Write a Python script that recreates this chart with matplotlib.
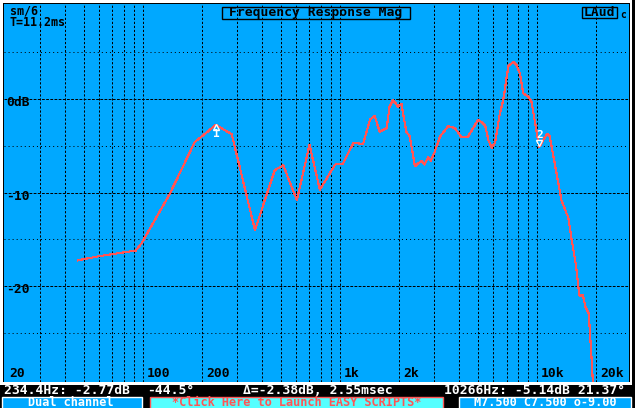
import matplotlib
matplotlib.use("Agg")
import matplotlib.pyplot as plt
import matplotlib.transforms as mtransforms
from matplotlib.patches import Rectangle

plt.rcParams['lines.scale_dashes'] = False

# ---------------- data ----------------
freq_hz = [46.6, 60, 79.5, 92, 98.5, 137, 183, 234.4, 282, 370, 467, 515, 604, 700,
           790, 945, 1035, 1170, 1310, 1420, 1500, 1590, 1725, 1785, 1860, 1970, 2050,
           2170, 2260, 2400, 2590, 2690, 2800, 2890, 3030, 3220, 3540, 3830, 4140, 4470,
           5030, 5450, 5670, 5890, 6120, 6480, 6740, 7150, 7580, 7880, 8190, 8510, 9020,
           9380, 9750, 10266, 10740, 11250, 11600, 12300, 13300, 14100, 14400, 14900,
           15800, 16400, 17100, 17600, 18300, 18900, 19300]
mag_db = [-17.25, -16.8, -16.4, -16.2, -15.4, -10.1, -4.6, -2.77, -3.75, -14.0, -7.6, -7.1,
          -10.8, -4.9, -9.7, -7.0, -6.9, -4.7, -4.8, -2.2, -1.8, -3.5, -3.1, -0.8, -0.1,
          -0.8, -0.5, -3.5, -4.0, -7.2, -6.6, -7.0, -6.2, -6.6, -5.6, -4.0, -2.9, -3.1,
          -4.1, -4.0, -2.2, -2.8, -4.4, -5.2, -4.7, -1.5, -0.1, 3.5, 4.0, 3.6, 2.75, 0.6,
          0.25, -0.3, -2.4, -5.14, -4.4, -3.7, -4.0, -6.9, -10.8, -12.2, -12.6, -14.7,
          -17.9, -21.0, -21.0, -22.2, -22.9, -27.6, -31.0]

grid_freqs = [30, 40, 50, 60, 70, 80, 90, 100, 200, 300, 400, 500, 600, 700, 800, 900,
              1000, 2000, 3000, 4000, 5000, 6000, 7000, 8000, 9000, 10000, 20000]
grid_db_major = [0, -10, -20]
grid_db_minor = [5, -5, -15, -25]
xtick_vals = [20, 100, 200, 1000, 2000, 10000, 20000]
xtick_labels = ["20", "100", "200", "1k", "2k", "10k", "20k"]
ytick_vals = [0, -10, -20]
ytick_labels = ["0dB", "-10", "-20"]
marker_freqs = [234.4, 10266]
marker_db = [-2.77, -5.14]

status_texts = ["234.4Hz: -2.77dB", "-44.5\u00b0", "\u0394=-2.38dB, 2.55msec",
                "10266Hz: -5.14dB 21.37\u00b0"]

# ---------------- styling ----------------
W, H = 635, 408
BLUE = '#00a8ff'
RED = '#ff5555'
CYAN = '#55ffff'
MONO = 'DejaVu Sans Mono'
FS = 9.4
FSB = 8.6
FST = 8.4

def fx(x):
    return x / W

def fy(y):
    return 1 - y / H

fig = plt.figure(figsize=(W / 100, H / 100), dpi=100, facecolor='black')

def prect(x0, y0, x1, y1, fc, ec='none', lw=0, z=0):
    r = Rectangle((fx(x0), fy(y1)), fx(x1) - fx(x0), fy(y0) - fy(y1),
                  transform=fig.transFigure, facecolor=fc, edgecolor=ec,
                  linewidth=lw, zorder=z)
    fig.patches.append(r)

# frame
prect(0, 0, 632, 384.5, 'white', z=-3)
prect(3, 3, 630, 382, 'black', z=-2)

ax = fig.add_axes([fx(4), fy(381.5), fx(629) - fx(4), fy(4) - fy(381.5)])
ax.set_zorder(1)
ax.set_facecolor(BLUE)
ax.set_xscale('log')
ax.set_xlim(19.7, 29300)
ax.set_ylim(-30.2, 10.16)
ax.set_xticks([])
ax.set_yticks([])
ax.minorticks_off()
for s in ax.spines.values():
    s.set_visible(False)

for f in grid_freqs:
    ax.axvline(f, color='black', lw=0.72, linestyle=(0, (1.6, 1.3)), zorder=1)
for d in grid_db_major:
    ax.axhline(d, color='black', lw=0.72, linestyle=(0, (2.0, 1.0)), zorder=1)
for d in grid_db_minor:
    ax.axhline(d, color='black', lw=0.72, linestyle=(0, (0.72, 2.2)), zorder=1)

ax.plot(freq_hz, mag_db, color=RED, lw=0.8, antialiased=False, zorder=3)

# axis labels
for v, lab in zip(xtick_vals, xtick_labels):
    ax.annotate(lab, xy=(v, 0), xycoords=('data', 'axes fraction'),
                xytext=(2.6, 5.9), textcoords='offset points', ha='left', va='center',
                family=MONO, weight='bold', size=FS, color='black', zorder=4)
for v, lab in zip(ytick_vals, ytick_labels):
    ax.annotate(lab, xy=(0, v), xycoords=('axes fraction', 'data'),
                xytext=(1.5, -2.7), textcoords='offset points', ha='left', va='center',
                family=MONO, weight='bold', size=FS, color='black', zorder=4)

# markers
ax.plot([marker_freqs[0]], [marker_db[0]], marker='^', ms=5, mfc=BLUE, mec='white', mew=1,
        transform=mtransforms.offset_copy(ax.transData, fig=fig, x=0, y=-1.6, units='points'),
        zorder=5)
ax.annotate("1", xy=(marker_freqs[0], marker_db[0]), xytext=(0, -6.3), textcoords='offset points',
            ha='center', va='center', family=MONO, weight='bold', size=8, color='white', zorder=5)
ax.plot([marker_freqs[1]], [marker_db[1]], marker='v', ms=5, mfc=BLUE, mec='white', mew=1,
        transform=mtransforms.offset_copy(ax.transData, fig=fig, x=0, y=2.6, units='points'),
        zorder=5)
ax.annotate("2", xy=(marker_freqs[1], marker_db[1]), xytext=(0, 8.8), textcoords='offset points',
            ha='center', va='center', family=MONO, weight='bold', size=8, color='white', zorder=5)

# top texts
fig.text(fx(10), fy(11.5), "sm/6", ha='left', va='center', family=MONO, weight='bold', size=FST, color='black', zorder=6)
fig.text(fx(10), fy(23), "T=11.2ms", ha='left', va='center', family=MONO, weight='bold', size=FST, color='black', zorder=6)
prect(221.5, 7, 409.5, 18.5, 'none', ec='black', lw=1.0, z=5)
fig.text(fx(315.5), fy(12.8), "Frequency Response Mag", ha='center', va='center', family=MONO,
         weight='bold', size=FS, color='black', zorder=6)
prect(581.5, 7, 616.5, 17.5, 'none', ec='black', lw=1.0, z=5)
fig.text(fx(599), fy(12.3), "LAud", ha='center', va='center', family=MONO,
         weight='bold', size=FS, color='black', zorder=6)
fig.text(fx(620), fy(14.5), "c", ha='left', va='center', family=MONO,
         weight='bold', size=7, color='black', zorder=6)

# status line
status_x = [4, 147, 243, 443.5]
for x, s in zip(status_x, status_texts):
    fig.text(fx(x), fy(391), s, ha='left', va='center', family=MONO, weight='bold',
             size=FS, color='white', zorder=6)

# bottom buttons
prect(2, 396.5, 142, 409, BLUE, ec='white', lw=1.0, z=2)
fig.text(fx(71), fy(402.5), "Dual channel", ha='center', va='center', family=MONO, weight='bold',
         size=FSB, color='white', zorder=3)
prect(150, 396.5, 443, 409, CYAN, ec=RED, lw=1.0, z=2)
fig.text(fx(297), fy(402.5), "*Click Here to Launch EASY SCRIPTS*", ha='center', va='center',
         family=MONO, weight='bold', size=FSB, color=RED, zorder=3)
prect(459, 396.5, 631, 409, BLUE, ec='white', lw=1.0, z=2)
fig.text(fx(545.5), fy(402.5), "M7.500 C7.500 o-9.00", ha='center', va='center', family=MONO,
         weight='bold', size=FSB, color='white', zorder=3)

fig.savefig("out.png", dpi=100, facecolor='black')
